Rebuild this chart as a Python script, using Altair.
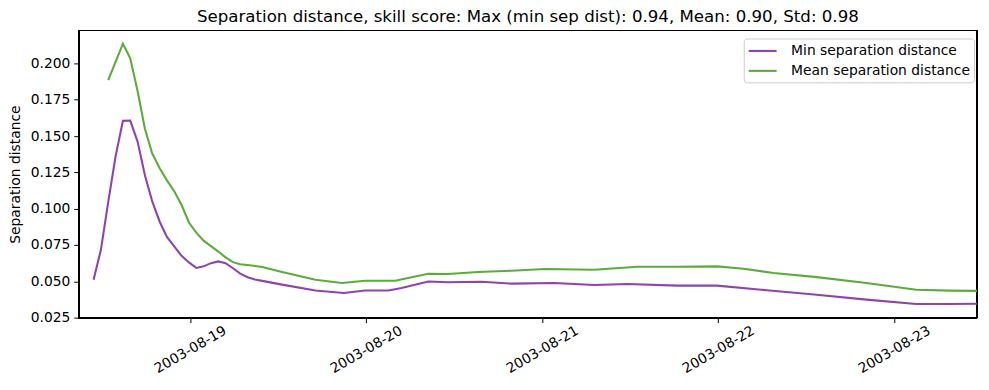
import altair as alt
import pandas as pd

# ---- data ----
base_time = "2003-08-18 10:51"

min_hours = [0, 1, 2, 3, 4, 5, 6, 7, 8, 9, 10, 11, 12, 13, 14, 15, 16, 17, 18, 19, 20, 21, 22, 23,
             25.7, 30.25, 34.1, 37.04, 40.2, 42.0, 45.64, 48.35, 52.87, 56.95, 62.84, 68.27, 72.79,
             79.58, 85.0, 91.79, 98.59, 105.38, 112.16, 116.69, 120.45]
min_values = [0.051, 0.0717, 0.1047, 0.136, 0.1605, 0.1607, 0.1462, 0.123, 0.105, 0.0912, 0.0805,
              0.074, 0.0675, 0.063, 0.0592, 0.0603, 0.0625, 0.0637, 0.0625, 0.059, 0.0553, 0.0528,
              0.0513, 0.0503,
              0.0477, 0.0437, 0.042, 0.0437, 0.0437, 0.0454, 0.0499, 0.0493, 0.0497, 0.0484, 0.0488,
              0.0475, 0.0482, 0.047, 0.047, 0.0438, 0.0408, 0.0374, 0.0344, 0.0344, 0.0346]

mean_hours = [2, 3, 4, 5, 6, 7, 8, 9, 10, 11, 12, 13, 14, 15, 16, 17, 18, 19, 20, 21, 22, 23,
              25.7, 30.25, 33.86, 37.04, 41.11, 45.64, 48.35, 52.42, 56.95, 61.48, 68.27, 74.15,
              79.58, 85.0, 88.64, 92.71, 98.59, 105.38, 112.16, 116.69, 120.45]
mean_values = [0.1886, 0.2011, 0.2136, 0.2035, 0.181, 0.155, 0.138, 0.128, 0.1195, 0.112, 0.1025,
               0.0905, 0.0835, 0.078, 0.0742, 0.0705, 0.0665, 0.0632, 0.0618, 0.0612, 0.0606, 0.0598,
               0.0564, 0.0511, 0.0488, 0.0504, 0.0504, 0.0552, 0.055, 0.0564, 0.0573, 0.0585, 0.058,
               0.060, 0.060, 0.0603, 0.0587, 0.0557, 0.0529, 0.0488, 0.0442, 0.0436, 0.0434]

series_names = ["Min separation distance", "Mean separation distance"]
series_colors = ["#8e44ad", "#5dab3e"]
day_ticks = [19, 20, 21, 22, 23]
y_ticks = [0.025, 0.050, 0.075, 0.100, 0.125, 0.150, 0.175, 0.200]
title_text = "Separation distance, skill score: Max (min sep dist): 0.94, Mean: 0.90, Std: 0.98"

# ---- table ----
base = pd.Timestamp(base_time)
rows = []
for name, hrs, vals in [(series_names[0], min_hours, min_values),
                        (series_names[1], mean_hours, mean_values)]:
    for h, v in zip(hrs, vals):
        t = base + pd.to_timedelta(h, unit="h")
        rows.append({"time": t.strftime("%Y-%m-%dT%H:%M:%S"), "value": v, "series": name})
df = pd.DataFrame(rows)
title_df = pd.DataFrame({"label": [title_text]})

FONT = "DejaVu Sans"
W, H = 901, 288

x_domain = [alt.DateTime(year=2003, month=8, date=18, hours=8, minutes=50),
            alt.DateTime(year=2003, month=8, date=23, hours=11, minutes=18)]

lines = alt.Chart(df).mark_line(strokeWidth=2.1, clip=True).encode(
    x=alt.X("time:T",
            scale=alt.Scale(domain=x_domain, nice=False),
            axis=alt.Axis(values=[alt.DateTime(year=2003, month=8, date=d) for d in day_ticks],
                          format="%Y-%m-%d", labelAngle=-30, labelAlign="center",
                          labelBaseline="middle", labelPadding=27, title=None,
                          labelOverlap=False, labelFlush=False, grid=False)),
    y=alt.Y("value:Q",
            scale=alt.Scale(domain=[0.025, 0.2227], nice=False, zero=False),
            axis=alt.Axis(values=y_ticks, format=".3f", title="Separation distance",
                          titleX=-63, titleY=144, titleAngle=-90, titleAlign="center",
                          titleBaseline="middle", grid=False, labelPadding=4)),
    color=alt.Color("series:N",
                    scale=alt.Scale(domain=series_names, range=series_colors),
                    legend=alt.Legend(title=None, orient="none", legendX=667, legendY=8,
                                      symbolType="M-2,0H2", symbolSize=196,
                                      symbolStrokeWidth=2.1, symbolOffset=6.5,
                                      labelFontSize=13.9, labelFont=FONT, labelColor="black",
                                      labelOffset=20, labelLimit=0, padding=4, rowPadding=4,
                                      strokeColor="#cccccc", fillColor="white",
                                      cornerRadius=3)),
)

frame = alt.Chart(df).mark_rect(fill=None, stroke="black", strokeWidth=1).encode(
    x=alt.value(0), x2=alt.value(W), y=alt.value(0), y2=alt.value(H)
)

title_mark = alt.Chart(title_df).mark_text(
    font=FONT, fontSize=16.7, color="black", align="center", baseline="alphabetic"
).encode(
    x=alt.value(W / 2), y=alt.value(-9), text="label:N"
)

chart = alt.layer(frame, lines, title_mark).properties(
    width=W, height=H,
    autosize=alt.AutoSizeParams(type="none"),
    padding={"left": 71, "top": 22, "right": 4, "bottom": 60},
).configure_view(
    stroke=None
).configure_axis(
    labelFont=FONT, labelFontSize=13.9, labelColor="black",
    titleFont=FONT, titleFontSize=13.9, titleColor="black", titleFontWeight="normal",
    domainColor="black", domainWidth=1, tickColor="black", tickSize=5, tickWidth=1
)

chart.save("out.html", embed_options={"renderer": "svg", "actions": False})
